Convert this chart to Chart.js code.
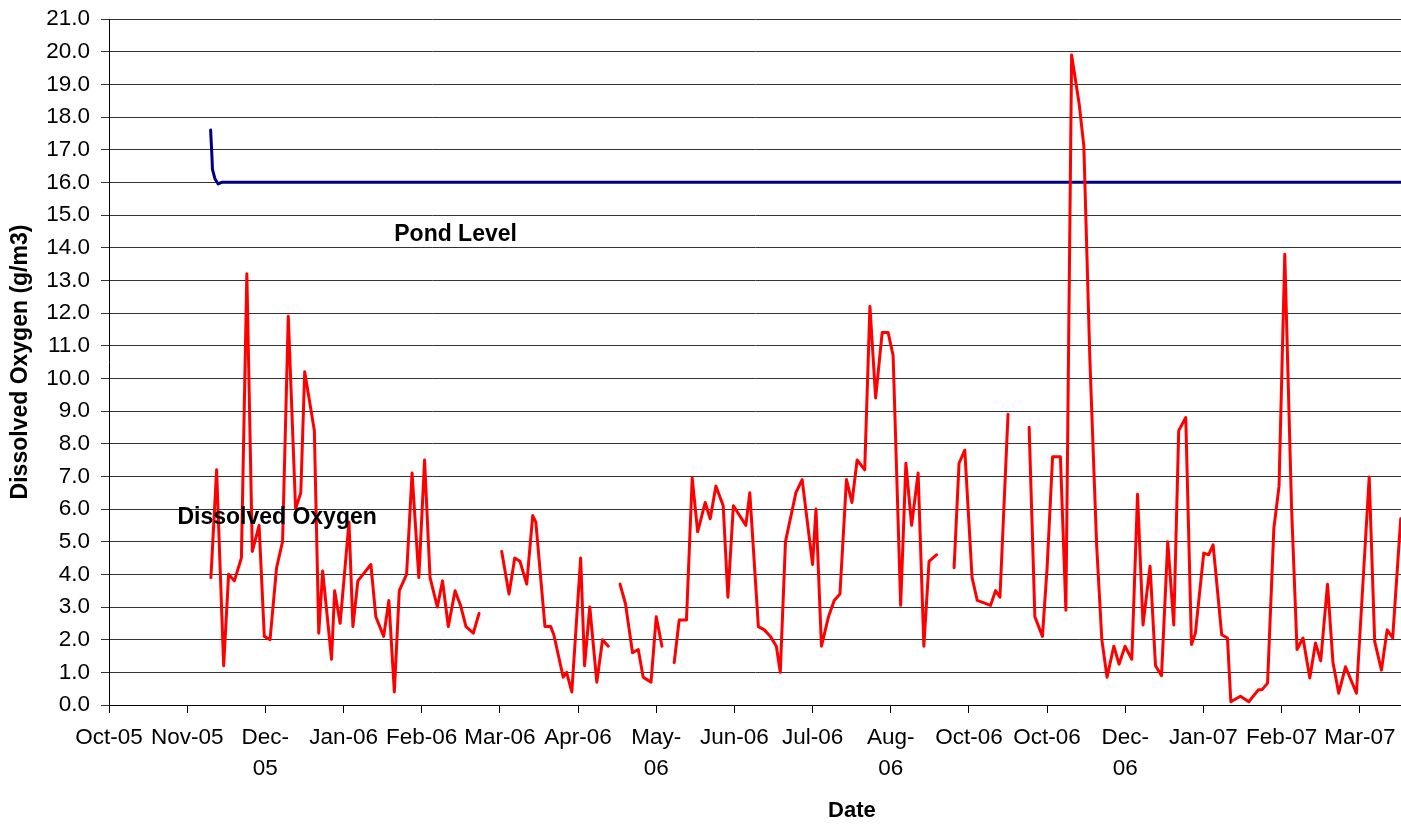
<!DOCTYPE html>
<html>
<head>
<meta charset="utf-8">
<script src="https://cdn.jsdelivr.net/npm/chart.js@4.4.1/dist/chart.umd.min.js"></script>
<style>
  html, body { margin: 0; padding: 0; background: #ffffff; overflow: hidden; }
  canvas { display: block; }
</style>
</head>
<body>
<canvas id="c" width="1401" height="827"></canvas>
<script>
// ---------- data ----------
// x tick labels (one every TICK_STEP days starting at day 0)
const tickLabels = ['Oct-05', 'Nov-05', ['Dec-', '05'], 'Jan-06', 'Feb-06', 'Mar-06', 'Apr-06',
  ['May-', '06'], 'Jun-06', 'Jul-06', ['Aug-', '06'], 'Oct-06', 'Oct-06', ['Dec-', '06'],
  'Jan-07', 'Feb-07', 'Mar-07'];
const TICK_STEP = 30;
const X_MAX = 495.8;

// Dissolved oxygen samples: day offset from the first tick, and value (g/m3); null = gap
const doX = [
  39.1, 41.3, 44.0, 45.9, 48.1, 50.8, 52.9, 55.0, 57.6, 59.6, 61.8, 64.3, 66.6, 68.8, 71.6, 73.6,
  75.1, 78.8, 80.5, 82.0, 85.4, 86.6, 88.7, 92.1, 93.6, 95.5, 100.5, 102.4, 105.4, 107.4, 109.5,
  111.4, 114.2, 116.3, 118.9, 121.1, 123.2, 126.0, 128.0, 130.2, 132.8, 134.9, 137.0, 139.8, 142.0,
  146,
  150.7, 153.5, 155.7, 157.7, 160.3, 162.6, 163.8, 167.3, 169.5, 170.7, 174.3, 175.6, 177.6, 181.0,
  182.5, 184.5, 187.2, 189.4, 191.6,
  194,
  196.1, 198.2, 200.9, 203.1, 205.0, 208.0, 210.0, 212.2,
  214.5,
  216.9, 218.8, 221.6, 223.8, 225.9, 228.8, 230.7, 232.9, 235.7, 237.5, 239.6, 244.4, 245.9, 249.2,
  251.5, 253.8, 256.1, 257.6, 259.6, 263.6, 266.0, 270.0, 271.3, 273.4, 276.1, 278.3, 280.5, 283.0,
  285.1, 287.1, 290.0, 292.0, 294.2, 296.7, 299.0, 300.9, 303.8, 305.8, 308.0, 310.5, 312.7, 314.7,
  317.6,
  321,
  324.3, 326.2, 328.4, 331.2, 333.2, 338.3, 340.2, 341.9, 345.0,
  349,
  353.1, 355.3, 358.2, 360.0, 362.1, 365.1, 367.2, 369.4, 372.3, 374.1, 376.4, 379.0, 381.0, 383.0,
  385.6, 387.6, 389.9, 392.5, 394.7, 396.8, 399.5, 401.6, 403.9, 406.3, 408.6, 410.5, 413.2, 415.4,
  416.9, 420.1, 422.0, 423.7, 427.0, 429.2, 430.5, 434.2, 437.4, 441.1, 442.5, 444.6, 447.0, 449.0,
  451.2, 453.8, 455.9, 458.2, 460.8, 463.0, 465.0, 467.6, 469.7, 471.9, 474.5, 478.7, 483.6, 485.7,
  488.3, 490.5, 492.6, 495.7
];
const doY = [
  3.9, 7.2, 1.2, 4.0, 3.8, 4.5, 13.2, 4.7, 5.5, 2.1, 2.0, 4.2, 5.0, 11.9, 6.0, 6.5,
  10.2, 8.4, 2.2, 4.1, 1.4, 3.5, 2.5, 5.6, 2.4, 3.8, 4.3, 2.7, 2.1, 3.2, 0.4,
  3.5, 4.0, 7.1, 3.9, 7.5, 3.9, 3.0, 3.8, 2.4, 3.5, 3.05, 2.4, 2.2, 2.8,
  null,
  4.7, 3.4, 4.5, 4.4, 3.7, 5.8, 5.6, 2.4, 2.4, 2.15, 0.85, 1.0, 0.4, 4.5,
  1.2, 3.0, 0.7, 2.0, 1.8,
  null,
  3.7, 3.1, 1.6, 1.7, 0.85, 0.7, 2.7, 1.8,
  null,
  1.3, 2.6, 2.6, 6.95, 5.3, 6.2, 5.7, 6.7, 6.1, 3.3, 6.1, 5.5, 6.5, 2.4,
  2.3, 2.1, 1.8, 1.0, 5.0, 6.5, 6.9, 4.3, 6.0, 1.8, 2.7, 3.2, 3.4, 6.9,
  6.2, 7.5, 7.2, 12.2, 9.4, 11.4, 11.4, 10.7, 3.05, 7.4, 5.5, 7.1, 1.8, 4.4,
  4.6,
  null,
  4.2, 7.4, 7.8, 3.9, 3.2, 3.05, 3.5, 3.3, 8.9,
  null,
  8.5, 2.7, 2.1, 4.2, 7.6, 7.6, 2.9, 19.9, 18.4, 17.1, 10.6, 4.9, 2.0, 0.85,
  1.8, 1.25, 1.8, 1.4, 6.45, 2.45, 4.25, 1.2, 0.9, 5.0, 2.45, 8.4, 8.8, 1.85,
  2.2, 4.65, 4.6, 4.9, 2.15, 2.05, 0.1, 0.27, 0.1, 0.47, 0.47, 0.67, 5.4, 6.7,
  13.8, 6.05, 1.7, 2.05, 0.83, 1.9, 1.35, 3.7, 1.3, 0.36, 1.17, 0.36, 6.98, 1.95,
  1.07, 2.3, 2.05, 5.7
];

// Pond level series
const pondX = [39.0, 39.5, 39.7, 40.7, 41.9, 43.2, 495.8];
const pondY = [17.6, 16.8, 16.4, 16.1, 15.95, 16.0, 16.0];

// Series name labels placed in the plot (data coordinates)
const seriesNotes = [
  { text: 'Pond Level', x: 133, y: 14.4 },
  { text: 'Dissolved Oxygen', x: 64.5, y: 5.73 }
];
const yTitle = 'Dissolved Oxygen (g/m3)';
const xTitle = 'Date';

// ---------- chart ----------
const FONT = '"Liberation Sans", Arial, Helvetica, sans-serif';
const toPoints = (xs, ys) => xs.map((v, i) => ({ x: v, y: ys[i] }));

const notesPlugin = {
  id: 'notes',
  afterDatasetsDraw(chart) {
    const { ctx, chartArea } = chart;
    const xs = chart.scales.x, ys = chart.scales.y;
    ctx.save();
    ctx.fillStyle = '#000';
    ctx.font = 'bold 23px ' + FONT;
    ctx.textAlign = 'center';
    ctx.textBaseline = 'middle';
    seriesNotes.forEach(n => ctx.fillText(n.text, xs.getPixelForValue(n.x), ys.getPixelForValue(n.y)));
    ctx.font = 'bold 22px ' + FONT;
    ctx.fillText(xTitle, chartArea.left + 0.575 * (chartArea.right - chartArea.left), chart.height - 16);
    ctx.restore();
  }
};

new Chart(document.getElementById('c'), {
  type: 'line',
  data: {
    datasets: [
      {
        label: 'Dissolved Oxygen',
        data: toPoints(doX, doY),
        borderColor: '#ff0000',
        backgroundColor: '#ff0000',
        borderWidth: 3,
        pointRadius: 0,
        tension: 0,
        spanGaps: false,
        borderJoinStyle: 'round',
        borderCapStyle: 'round'
      },
      {
        label: 'Pond Level',
        data: toPoints(pondX, pondY),
        borderColor: '#000080',
        backgroundColor: '#000080',
        borderWidth: 3,
        pointRadius: 0,
        tension: 0,
        borderJoinStyle: 'round',
        borderCapStyle: 'round'
      }
    ]
  },
  options: {
    responsive: false,
    animation: false,
    devicePixelRatio: 1,
    layout: { padding: { top: 19, left: 0, right: 0, bottom: 0 } },
    plugins: {
      legend: { display: false },
      tooltip: { enabled: false },
      title: { display: false }
    },
    scales: {
      x: {
        type: 'linear',
        min: 0,
        max: X_MAX,
        afterFit: (s) => { s.height = 122; s.paddingLeft = 0; s.paddingRight = 0; },
        grid: { display: true, drawOnChartArea: false, drawTicks: true, tickLength: 8, color: '#000', lineWidth: 1 },
        border: { display: true, color: '#000', width: 1 },
        ticks: {
          stepSize: TICK_STEP,
          includeBounds: false,
          autoSkip: false,
          maxRotation: 0,
          minRotation: 0,
          padding: 9,
          color: '#000',
          font: { family: FONT, size: 22.5, lineHeight: 1.38 },
          callback: (v) => {
            const i = Math.round(v / TICK_STEP);
            return tickLabels[i] !== undefined ? tickLabels[i] : '';
          }
        }
      },
      y: {
        min: 0,
        max: 21,
        afterFit: (s) => { s.width = 109; s.paddingTop = 0; s.paddingBottom = 0; },
        grid: { display: true, drawOnChartArea: true, drawTicks: true, tickLength: 8, color: '#333', lineWidth: 1 },
        border: { display: true, color: '#000', width: 1 },
        title: {
          display: true,
          text: yTitle,
          color: '#000',
          font: { family: FONT, size: 23, weight: 'bold', lineHeight: 1.2 },
          padding: { top: 7, bottom: 0 }
        },
        ticks: {
          stepSize: 1,
          padding: 11,
          color: '#000',
          font: { family: FONT, size: 22.5 },
          callback: (v) => Number(v).toFixed(1)
        }
      }
    }
  },
  plugins: [notesPlugin]
});
</script>
</body>
</html>
